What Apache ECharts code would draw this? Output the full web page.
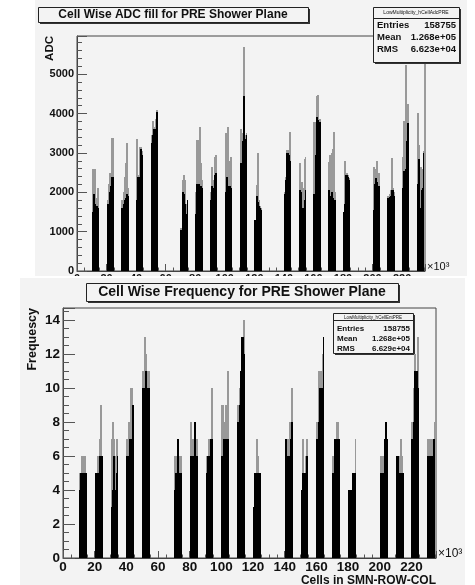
<!DOCTYPE html>
<html>
<head>
<meta charset="utf-8">
<script src="https://cdn.jsdelivr.net/npm/echarts@6/dist/echarts.min.js"></script>
<style>
html, body { margin: 0; padding: 0; background: #fff; }
#adc  { position: absolute; left: 35px; top: 0; width: 432px; height: 276px; background: #f3f3f3; }
#freq { position: absolute; left: 20px; top: 278px; width: 445px; height: 307px; background: #f3f3f3; }
</style>
</head>
<body>
<div id="adc"></div>
<div id="freq"></div>
<script>
// cluster start (x10^3 cells), each cluster split in 6 bins
var clusterStart = [10, 20, 30, 40, 50, 70, 80, 90, 100, 110, 120, 140, 150, 160, 170, 180, 200, 210, 220, 230];
var binWidth = 5 / 6;

// ADC: black body and grey spikes per bin
var adcBody = [
  [1500, 1950, 1700, 1650, 1600, 1550],
  [1700, 1700, 2000, 2150, 2400, 2200],
  [1600, 1700, 1800, 1850, 1950, 1900],
  [1800, 2400, 2400, 3100, 2950, 2900],
  [3250, 3450, 3600, 3550, 4050, 3600],
  [1050, 2000, 1950, 1700, 1450, 1800],
  [1450, 2200, 2200, 1700, 2150, 2100],
  [1800, 2150, 2100, 2450, 2500, 2400],
  [2000, 2400, 2000, 2150, 1700, 2100],
  [2750, 2700, 3300, 4450, 3350, 3450],
  [1300, 1900, 1750, 1650, 1600, 1550],
  [1950, 2300, 3000, 2950, 2800, 2450],
  [2050, 2000, 1500, 1600, 1800, 2050],
  [1950, 2950, 3900, 3830, 3790, 3150],
  [2050, 1900, 2000, 1850, 1800, 1800],
  [1500, 1700, 2450, 2400, 2300, 2100],
  [1550, 2200, 2350, 2250, 2150, 2000],
  [1850, 1880, 1900, 2050, 2050, 1900],
  [2100, 2550, 2600, 3300, 3750, 3300],
  [2200, 2850, 1600, 2050, 2100, 3000]
];
var adcPeak = [
  [2600, 2000, 2600, 1850, 2100, 1600],
  [1800, 2200, 2500, 2450, 3380, 2450],
  [1800, 2000, 2400, 2750, 3250, 2100],
  [3350, 2450, 3150, 3150, 3050, 2950],
  [3450, 3800, 3650, 3850, 4080, 3650],
  [1100, 2300, 2450, 2300, 1700, 1800],
  [2000, 3320, 2300, 3650, 2750, 2300],
  [2000, 2650, 2300, 2900, 2950, 2800],
  [3500, 2600, 3660, 2800, 2900, 2300],
  [3620, 3300, 3500, 5700, 3450, 3500],
  [1300, 2180, 3000, 1800, 1650, 1600],
  [2000, 2400, 3070, 3000, 3540, 2800],
  [2750, 2200, 2250, 2100, 2850, 2900],
  [3780, 3400, 4440, 4460, 3850, 3300],
  [2770, 2950, 3000, 3100, 3540, 2000],
  [1500, 2790, 2500, 2450, 2350, 2150],
  [2650, 2600, 2550, 2790, 2500, 2200],
  [1900, 1950, 2050, 2880, 2100, 2000],
  [2900, 3800, 5230, 3850, 4250, 3400],
  [4020, 3200, 2650, 2100, 2600, 3050]
];

// Frequency: black body and grey spikes per bin
var freqBody = [
  [4, 5, 5, 5, 5, 5],
  [5, 5, 5, 6, 6, 6],
  [3, 4, 6, 4, 5, 6],
  [6, 6, 7, 7, 9, 8],
  [10, 10, 11, 10, 10, 10],
  [4, 5, 7, 5, 5, 5],
  [6, 4, 6, 8, 6, 6],
  [5, 6, 6, 7, 7, 7],
  [6, 7, 7, 7, 7, 7],
  [8, 9, 11, 13, 12, 11],
  [3, 5, 5, 5, 5, 4],
  [7, 6, 6, 6, 7, 8],
  [4, 5, 5, 5, 6, 6],
  [7, 8, 10, 10, 10, 13],
  [5, 7, 6, 7, 7, 5],
  [4, 4, 4, 5, 5, 5],
  [5, 5, 5, 7, 8, 7],
  [6, 6, 5, 5, 5, 5],
  [7, 8, 11, 11, 10, 10],
  [6, 6, 6, 6, 7, 7]
];
var freqPeak = [
  [5, 5, 6, 5, 6, 5],
  [5, 5, 6, 7, 9, 6],
  [7, 8, 7, 6, 7, 7],
  [7, 8, 8, 10, 9, 8],
  [11, 13, 12, 11, 11, 11],
  [6, 6, 7, 6, 6, 6],
  [8, 6, 7, 8, 7, 7],
  [6, 6, 7, 7, 10, 8],
  [9, 7, 8, 9, 11, 8],
  [9, 10, 11, 13, 14, 12],
  [3, 5, 7, 6, 5, 4],
  [7, 6, 7, 8, 8, 10],
  [4, 7, 5, 6, 7, 7],
  [8, 11, 10, 11, 12, 13],
  [6, 7, 7, 8, 7, 6],
  [4, 4, 4, 5, 5, 7],
  [6, 6, 6, 7, 8, 7],
  [6, 6, 6, 7, 6, 5],
  [8, 10, 12, 11, 13, 10],
  [7, 7, 7, 7, 7, 8]
];

var xTicks = [0, 20, 40, 60, 80, 100, 120, 140, 160, 180, 200, 220];
var adcStats = ['LowMultiplicity_hCellAdcPRE', '158755', '1.268e+05', '6.623e+04'];
var freqStats = ['LowMultiplicity_hCellEntPRE', '158755', '1.268e+05', '6.629e+04'];

var FONT = '"Liberation Sans", Arial, Helvetica, sans-serif';
var BG = '#f3f3f3';

function bins(vals) {
  var out = [];
  for (var i = 0; i < clusterStart.length; i++) {
    for (var j = 0; j < vals[i].length; j++) {
      var x0 = clusterStart[i] + j * binWidth;
      out.push([x0, x0 + binWidth, vals[i][j], j === vals[i].length - 1 ? 1 : 0]);
    }
  }
  return out;
}

function binSeries(vals, color) {
  return {
    type: 'custom',
    data: bins(vals),
    encode: { x: [0, 1], y: 2 },
    renderItem: function (params, api) {
      var p0 = api.coord([api.value(0), api.value(2)]);
      var p1 = api.coord([api.value(1), 0]);
      // snap to whole pixels; inner bins overlap their neighbour by 1px so no seams show
      var xa = Math.round(p0[0]), xb = Math.round(p1[0]);
      var w = Math.max(1, xb - xa) + (api.value(3) ? 0 : 1);
      var ya = Math.round(p0[1]), yb = Math.round(p1[1]);
      return {
        type: 'rect',
        shape: { x: xa, y: ya, width: w, height: yb - ya },
        style: { fill: color }
      };
    }
  };
}

// ROOT style box with drop shadow
function shadowBox(x, y, w, h) {
  return [
    { type: 'rect', shape: { x: x + 2, y: y + 2, width: w, height: h }, style: { fill: '#333' } },
    { type: 'rect', shape: { x: x + 0.5, y: y + 0.5, width: w, height: h }, style: { fill: BG, stroke: '#222', lineWidth: 1 } }
  ];
}

function txt(x, y, s, size, align, weight, rot) {
  return {
    type: 'text', x: x, y: y, rotation: rot || 0,
    style: { text: s, fontSize: size, fontFamily: FONT, fontWeight: weight || 'bold',
             fill: '#111', align: align || 'left', verticalAlign: 'middle' }
  };
}

function statsBox(x, y, w, h, stats, headSize, size, headY, sepY, rowY) {
  var els = shadowBox(x, y, w, h);
  els.push({ type: 'line', shape: { x1: x, y1: sepY + 0.5, x2: x + w, y2: sepY + 0.5 }, style: { stroke: '#222', lineWidth: 1 } });
  els.push(txt(x + w / 2, headY, stats[0], headSize, 'center', 'normal'));
  var names = ['Entries', 'Mean', 'RMS'];
  for (var i = 0; i < 3; i++) {
    els.push(txt(x + 4, rowY[i], names[i], size, 'left'));
    els.push(txt(x + w - 3, rowY[i], stats[i + 1], size, 'right'));
  }
  return els;
}

function axes(o) {
  return {
    xAxis: {
      type: 'value', min: 0, max: 235.5, interval: 20,
      axisLine: { show: true, lineStyle: { color: '#444' } },
      axisTick: { inside: true, length: 7, lineStyle: { color: '#555' } },
      minorTick: { show: true, splitNumber: 4, length: 3.5, lineStyle: { color: '#555' } },
      splitLine: { show: false },
      axisLabel: { margin: o.xMargin, fontSize: o.xFont, fontWeight: 'bold', fontFamily: FONT, color: '#111',
                   showMaxLabel: false,
                   formatter: function (v) { return xTicks.indexOf(v) >= 0 ? String(v) : ''; } }
    },
    yAxis: {
      type: 'value', min: 0, max: o.yMax, interval: o.yStep,
      axisLine: { show: true, lineStyle: { color: '#444' } },
      axisTick: { inside: true, length: o.tick, lineStyle: { color: '#555' } },
      minorTick: { show: true, splitNumber: o.minor, length: o.tick / 2, lineStyle: { color: '#555' } },
      splitLine: { show: false },
      axisLabel: { margin: 3, fontSize: o.yFont, fontWeight: 'bold', fontFamily: FONT, color: '#111',
                   showMaxLabel: false,
                   formatter: function (v) { return v % o.yStep === 0 ? String(v) : ''; } }
    }
  };
}

// top: ADC
var adcChart = echarts.init(document.getElementById('adc'));
var adcAxes = axes({ yMax: 5970, yStep: 1000, minor: 5, tick: 10, xFont: 11, yFont: 11, xMargin: 2 });
adcChart.setOption({
  animation: false,
  grid: { left: 42, top: 36, width: 348, height: 235, outerBoundsMode: 'none', show: true,
          borderColor: '#444', borderWidth: 1, backgroundColor: 'transparent' },
  xAxis: adcAxes.xAxis,
  yAxis: adcAxes.yAxis,
  series: [binSeries(adcPeak, '#999'), binSeries(adcBody, '#000')],
  graphic: shadowBox(3, 7, 270, 15)
    .concat([txt(138, 15, 'Cell Wise ADC fill for PRE Shower Plane', 12, 'center')])
    .concat(statsBox(338, 7, 86, 55, adcStats, 5, 9.5, 12.7, 18, [25.7, 37.3, 49.3]))
    .concat([
      txt(15, 36, 'ADC', 11.5, 'right', 'bold', Math.PI / 2),
      txt(392, 267, '×10³', 11, 'left', 'normal')
    ])
});

// bottom: frequency
var freqChart = echarts.init(document.getElementById('freq'));
var freqAxes = axes({ yMax: 14.7, yStep: 2, minor: 4, tick: 12, xFont: 13.5, yFont: 13.5, xMargin: 2 });
freqChart.setOption({
  animation: false,
  grid: { left: 43, top: 30, width: 373, height: 250, outerBoundsMode: 'none', show: true,
          borderColor: '#444', borderWidth: 1, backgroundColor: 'transparent' },
  xAxis: freqAxes.xAxis,
  yAxis: freqAxes.yAxis,
  series: [binSeries(freqPeak, '#999'), binSeries(freqBody, '#000')],
  graphic: shadowBox(66, 5, 312, 18)
    .concat([txt(222, 14.5, 'Cell Wise Frequency for PRE Shower Plane', 14, 'center')])
    .concat(statsBox(313, 35, 80, 40, freqStats, 4.5, 8, 39.3, 42, [50.3, 60.3, 70.3]))
    .concat([
      txt(13, 30, 'Frequescy', 12.5, 'right', 'bold', Math.PI / 2),
      txt(418, 276, '×10³', 12, 'left', 'normal'),
      txt(416, 302.5, 'Cells in SMN-ROW-COL', 12, 'right')
    ])
});
</script>
</body>
</html>
